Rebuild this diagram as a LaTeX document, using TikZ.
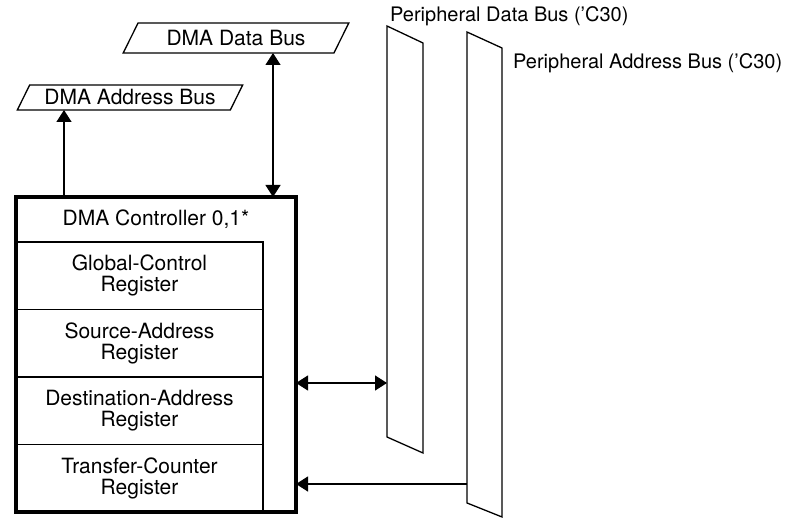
\documentclass[tikz,border=0pt]{standalone}
\usepackage{fontspec}
\setmainfont{TeX Gyre Heros}
\usetikzlibrary{arrows.meta,positioning,calc,shapes.geometric}

\begin{document}
\begin{tikzpicture}[x=1pt, y=-1pt,
  font=\fontsize{21}{21}\selectfont,
  bus/.style={draw, line width=1.3pt, trapezium, trapezium left angle=56, trapezium right angle=124, trapezium stretches=true, inner sep=0pt, outer sep=0pt},
  reg/.style={draw, line width=1.3pt, align=center, minimum width=247pt, minimum height=67.5pt, inner sep=0pt, outer sep=0pt},
  ctrlbox/.style={draw, line width=3.5pt, minimum width=280pt, minimum height=315pt, inner sep=0pt, outer sep=0pt},
  pbus/.style={inner sep=0pt, outer sep=0pt},
  arr/.style={-{Triangle[length=12pt,width=15pt]}, line width=1.3pt},
  darr/.style={{Triangle[length=12pt,width=15pt]}-{Triangle[length=12pt,width=15pt]}, line width=1.3pt},
  lab/.style={anchor=base west, inner sep=0pt, font=\fontsize{20}{22}\selectfont}
]
\useasboundingbox (0,0) rectangle (800,518);

% DMA buses (top left)
\node[bus, minimum width=226pt, minimum height=30pt] (dbus) at (236,38) {DMA Data Bus};
\node[bus, minimum width=226pt, minimum height=25pt] (abus) at (130,97.5) {DMA Address Bus};

% DMA controller with its registers
\node[ctrlbox] (ctrl) at (156,354.5) {};
\node[anchor=north, minimum height=45pt, inner sep=0pt] (title) at (ctrl.north) {DMA Controller 0,1*};
\node[reg, anchor=north west] (glob) at ($(ctrl.north west)+(0,45)$) {Global-Control\\Register};
\node[reg, below=0pt of glob] (src) {Source-Address\\Register};
\node[reg, below=0pt of src] (dst) {Destination-Address\\Register};
\node[reg, below=0pt of dst] (cnt) {Transfer-Counter\\Register};
\draw[line width=3.5pt] (ctrl.north west) rectangle (ctrl.south east);

% Peripheral buses (right)
\node[pbus, minimum width=36pt, minimum height=427pt] (pdbus) at (405,239.5) {};
\draw[line width=1.3pt] (pdbus.north west) -- ($(pdbus.north east)+(0,17)$) -- (pdbus.south east) -- ($(pdbus.south west)+(0,-16)$) -- cycle;
\node[lab] (pdlab) at ($(pdbus.north west)+(3,-4)$) {Peripheral Data Bus ('C30)};

\node[pbus, minimum width=35pt, minimum height=485pt] (pabus) at (484.5,274.5) {};
\draw[line width=1.3pt] (pabus.north west) -- ($(pabus.north east)+(0,16)$) -- (pabus.south east) -- ($(pabus.south west)+(0,-14)$) -- cycle;
\node[lab] (palab) at ($(pabus.north east)+(11,37)$) {Peripheral Address Bus ('C30)};

% Connections
\coordinate (aup) at ($(ctrl.north west)+(48,0)$);
\draw[arr] (aup) -- (aup |- abus.south);
\coordinate (dup) at ($(ctrl.north east)+(-23,0)$);
\draw[darr] (dup) -- (dup |- dbus.south);
\coordinate (pdin) at ($(pdbus.west)+(0,143.5)$);
\draw[darr] (ctrl.east |- pdin) -- (pdin);
\coordinate (pain) at ($(pabus.west)+(0,209.5)$);
\draw[arr] (pain) -- (ctrl.east |- pain);

\end{tikzpicture}
\end{document}
